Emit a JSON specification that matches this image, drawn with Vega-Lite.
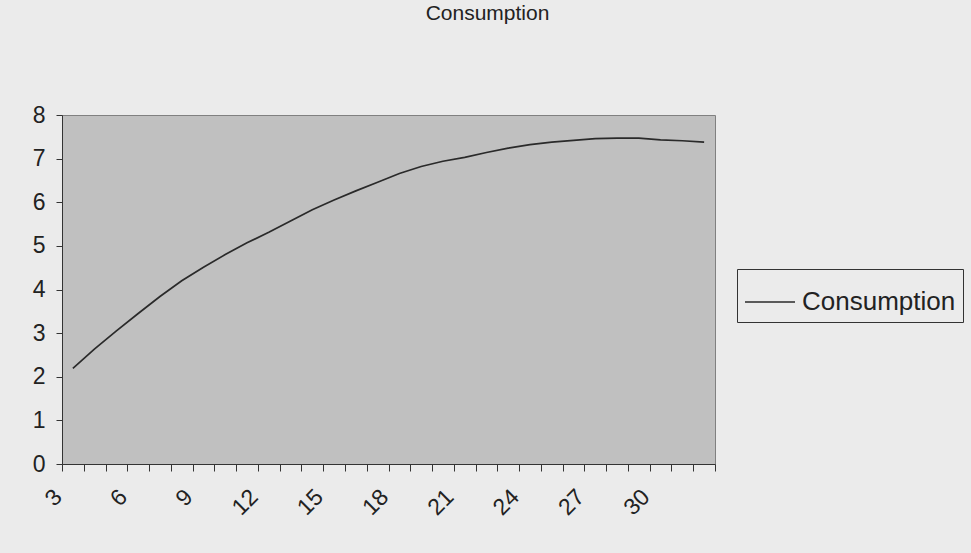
{
  "$schema": "https://vega.github.io/schema/vega-lite/v6.json",
  "autosize": "none",
  "width": 653,
  "height": 349,
  "padding": {"left": 62, "top": 115, "right": 256, "bottom": 89},
  "background": "#ebebeb",
  "title": {
    "text": "Consumption",
    "anchor": "middle",
    "dx": 99,
    "offset": 80,
    "font": "Liberation Sans",
    "fontSize": 21,
    "fontWeight": "normal",
    "color": "#222222"
  },
  "data": {
    "values": [
      {"period": 3, "value": 2.19, "series": "Consumption"},
      {"period": 4, "value": 2.64, "series": "Consumption"},
      {"period": 5, "value": 3.05, "series": "Consumption"},
      {"period": 6, "value": 3.45, "series": "Consumption"},
      {"period": 7, "value": 3.84, "series": "Consumption"},
      {"period": 8, "value": 4.2, "series": "Consumption"},
      {"period": 9, "value": 4.51, "series": "Consumption"},
      {"period": 10, "value": 4.8, "series": "Consumption"},
      {"period": 11, "value": 5.07, "series": "Consumption"},
      {"period": 12, "value": 5.31, "series": "Consumption"},
      {"period": 13, "value": 5.57, "series": "Consumption"},
      {"period": 14, "value": 5.83, "series": "Consumption"},
      {"period": 15, "value": 6.05, "series": "Consumption"},
      {"period": 16, "value": 6.26, "series": "Consumption"},
      {"period": 17, "value": 6.46, "series": "Consumption"},
      {"period": 18, "value": 6.66, "series": "Consumption"},
      {"period": 19, "value": 6.82, "series": "Consumption"},
      {"period": 20, "value": 6.94, "series": "Consumption"},
      {"period": 21, "value": 7.03, "series": "Consumption"},
      {"period": 22, "value": 7.14, "series": "Consumption"},
      {"period": 23, "value": 7.24, "series": "Consumption"},
      {"period": 24, "value": 7.32, "series": "Consumption"},
      {"period": 25, "value": 7.38, "series": "Consumption"},
      {"period": 26, "value": 7.42, "series": "Consumption"},
      {"period": 27, "value": 7.46, "series": "Consumption"},
      {"period": 28, "value": 7.47, "series": "Consumption"},
      {"period": 29, "value": 7.47, "series": "Consumption"},
      {"period": 30, "value": 7.43, "series": "Consumption"},
      {"period": 31, "value": 7.41, "series": "Consumption"},
      {"period": 32, "value": 7.38, "series": "Consumption"}
    ]
  },
  "mark": {"type": "line", "strokeWidth": 1.7},
  "encoding": {
    "x": {
      "field": "period",
      "type": "ordinal",
      "bandPosition": 0.5,
      "scale": {"type": "band", "paddingInner": 0, "paddingOuter": 0},
      "axis": {
        "title": null,
        "tickBand": "extent",
        "labelAngle": -45,
        "labelAlign": "right",
        "labelBaseline": "middle",
        "labelPadding": 22,
        "labelOffset": -15,
        "labelExpr": "datum.value % 3 == 0 ? datum.label : ''",
        "labelFont": "Liberation Sans",
        "labelFontSize": 23,
        "labelColor": "#222222",
        "labelFlush": false,
        "labelOverlap": false,
        "domainColor": "#333333",
        "tickColor": "#333333",
        "tickSize": 7,
        "grid": false
      }
    },
    "y": {
      "field": "value",
      "type": "quantitative",
      "scale": {"domain": [0, 8], "nice": false},
      "axis": {
        "title": null,
        "values": [0, 1, 2, 3, 4, 5, 6, 7, 8],
        "labelFont": "Liberation Sans",
        "labelFontSize": 23,
        "labelColor": "#222222",
        "labelPadding": 11,
        "labelFlush": false,
        "domainColor": "#333333",
        "tickColor": "#333333",
        "tickSize": 6,
        "grid": false
      }
    },
    "color": {
      "field": "series",
      "type": "nominal",
      "scale": {"range": ["#2a2a2a"]},
      "legend": {
        "title": null,
        "orient": "none",
        "legendX": 675,
        "legendY": 154,
        "symbolType": "stroke",
        "symbolSize": 2500,
        "symbolStrokeWidth": 1.5,
        "labelFont": "Liberation Sans",
        "labelFontSize": 26,
        "labelOffset": 6,
        "labelColor": "#222222",
        "labelLimit": 300,
        "strokeColor": "#333333",
        "fillColor": "#ebebeb",
        "padding": 7
      }
    }
  },
  "config": {
    "view": {"fill": "#c0c0c0", "stroke": "#808080", "strokeWidth": 1}
  }
}
